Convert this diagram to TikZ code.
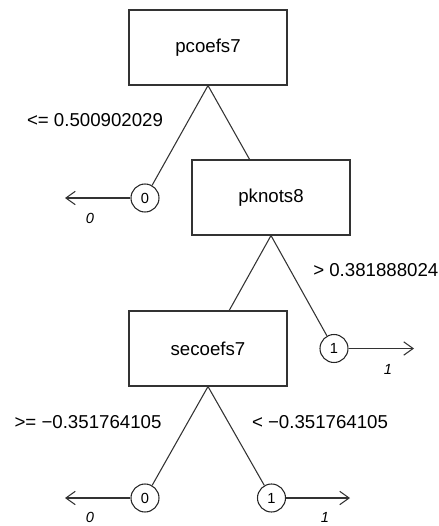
\documentclass[tikz,border=0pt]{standalone}
\usepackage{fontspec}
\setmainfont{Liberation Sans}
\usetikzlibrary{arrows.meta}
\begin{document}
\begin{tikzpicture}[x=0.75pt,y=-0.75pt,
  line/.style={draw=black!80, line width=0.8pt},
  box/.style={draw=black!80, line width=0.8pt, minimum width=118.5pt, minimum height=56.25pt, inner sep=0pt, font=\fontsize{14}{16}\selectfont},
  leaf/.style={draw=black!85, line width=0.8pt, circle, minimum size=21pt, inner sep=0pt, font=\fontsize{11}{13}\selectfont},
  cond/.style={font=\fontsize{14}{16}\selectfont, inner sep=0pt},
  cls/.style={font=\fontsize{11}{13}\selectfont\itshape, inner sep=0pt},
  outarrow/.style={line, -{Straight Barb[length=7pt,width=10pt]}}]
\useasboundingbox (0,0) rectangle (439,526);
\node[box] (p) at (208,47.5) {pcoefs7};
\node[box] (k) at (271,197.5) {pknots8};
\node[box] (s) at (208,348.5) {secoefs7};
\node[leaf] (l0a) at (145,198) {0};
\node[leaf] (l1a) at (334,348.5) {1};
\node[leaf] (l0b) at (145,498) {0};
\node[leaf] (l1b) at (271.5,498) {1};
\coordinate (e0a) at (65,198);
\coordinate (e1a) at (414,348.5);
\coordinate (e0b) at (65,498);
\coordinate (e1b) at (350,498);
\draw[line] (p.south) -- (l0a);
\draw[line] (p.south) -- (k);
\draw[line] (k.south) -- (s);
\draw[line] (k.south) -- (l1a);
\draw[line] (s.south) -- (l0b);
\draw[line] (s.south) -- (l1b);
\draw[outarrow] (l0a) -- (e0a);
\draw[outarrow] (l1a) -- (e1a);
\draw[outarrow] (l0b) -- (e0b);
\draw[outarrow] (l1b) -- (e1b);
\node[cond] (c1) at (95,120) {<= 0.500902029};
\node[cond, anchor=west] (c2) at (313,270) {> 0.381888024};
\node[cond] (c3) at (88,422) {>= −0.351764105};
\node[cond] (c4) at (320,422) {< −0.351764105};
\node[cls] (t0a) at (90,218) {0};
\node[cls] (t1a) at (388,369) {1};
\node[cls] (t0b) at (90,517) {0};
\node[cls] (t1b) at (325,517) {1};
\end{tikzpicture}
\end{document}
